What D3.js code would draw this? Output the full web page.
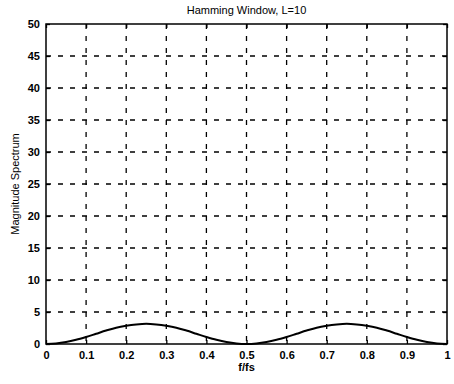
<!DOCTYPE html>
<html>
<head>
<meta charset="utf-8">
<script src="https://cdn.jsdelivr.net/npm/d3@7"></script>
<style>
  body { margin: 0; background: #fff; }
  text { font-family: "Liberation Sans", Arial, sans-serif; fill: #000; }
</style>
</head>
<body>
<div class="chart"></div>
<script>
// data
var freq = [0, 0.025, 0.05, 0.075, 0.1, 0.125, 0.15, 0.175, 0.2, 0.225, 0.25, 0.275, 0.3, 0.325, 0.35, 0.375, 0.4, 0.425, 0.45, 0.475,
            0.5, 0.525, 0.55, 0.575, 0.6, 0.625, 0.65, 0.675, 0.7, 0.725, 0.75, 0.775, 0.8, 0.825, 0.85, 0.875, 0.9, 0.925, 0.95, 0.975, 1];
var mag = [0, 0.08, 0.3, 0.65, 1.1, 1.6, 2.1, 2.55, 2.85, 3.05, 3.15, 3.05, 2.85, 2.55, 2.1, 1.6, 1.1, 0.65, 0.3, 0.08,
           0, 0.08, 0.3, 0.65, 1.1, 1.6, 2.1, 2.55, 2.85, 3.05, 3.15, 3.05, 2.85, 2.55, 2.1, 1.6, 1.1, 0.65, 0.3, 0.08, 0];
var xTicks = [0, 0.1, 0.2, 0.3, 0.4, 0.5, 0.6, 0.7, 0.8, 0.9, 1];
var yTicks = [0, 5, 10, 15, 20, 25, 30, 35, 40, 45, 50];

var svgWidth = 454, svgHeight = 384;
var margin = {top: 24, right: 7, bottom: 40, left: 46};
var width = svgWidth - margin.left - margin.right;
var height = svgHeight - margin.top - margin.bottom;

var svg = d3.select(".chart").append("svg")
  .attr("width", svgWidth)
  .attr("height", svgHeight);

var chartGroup = svg.append("g")
  .attr("transform", `translate(${margin.left}, ${margin.top})`);

var x = d3.scaleLinear().domain([0, 1]).range([0, width]);
var y = d3.scaleLinear().domain([0, 50]).range([height, 0]);

// dashed grid
chartGroup.selectAll("line.vgrid")
  .data(xTicks.slice(1, -1))
  .enter().append("line")
  .attr("x1", d => x(d)).attr("x2", d => x(d))
  .attr("y1", 0).attr("y2", height)
  .attr("stroke", "#000").attr("stroke-width", 1.3)
  .attr("stroke-dasharray", "5,7");

chartGroup.selectAll("line.hgrid")
  .data(yTicks.slice(1, -1))
  .enter().append("line")
  .attr("y1", d => y(d)).attr("y2", d => y(d))
  .attr("x1", 0).attr("x2", width)
  .attr("stroke", "#000").attr("stroke-width", 1.3)
  .attr("stroke-dasharray", "5,7");

// axes with inward ticks
var bottomAxis = d3.axisBottom(x).tickValues(xTicks).tickSize(-4).tickPadding(7).tickFormat(d3.format("~g"));
var topAxis = d3.axisTop(x).tickValues(xTicks).tickSize(-4).tickFormat("");
var leftAxis = d3.axisLeft(y).tickValues(yTicks).tickSize(-4).tickPadding(6);
var rightAxis = d3.axisRight(y).tickValues(yTicks).tickSize(-4).tickFormat("");

function styleAxis(g) {
  g.select(".domain").remove();
  g.selectAll("line").attr("stroke", "#000").attr("stroke-width", 1.3);
  g.selectAll("text").style("font-size", "11px").style("font-weight", "bold")
    .style("font-family", "'Liberation Sans', Arial, sans-serif");
}

chartGroup.append("g").attr("transform", `translate(0, ${height})`).call(bottomAxis).call(styleAxis);
chartGroup.append("g").call(topAxis).call(styleAxis);
chartGroup.append("g").call(leftAxis).call(styleAxis);
chartGroup.append("g").attr("transform", `translate(${width}, 0)`).call(rightAxis).call(styleAxis);

// box
chartGroup.append("rect")
  .attr("width", width).attr("height", height)
  .attr("fill", "none").attr("stroke", "#000").attr("stroke-width", 1.5);

// curve
var line = d3.line()
  .x((d, i) => x(freq[i]))
  .y(d => y(d))
  .curve(d3.curveMonotoneX);

chartGroup.append("path")
  .datum(mag)
  .attr("d", line)
  .attr("fill", "none")
  .attr("stroke", "#000")
  .attr("stroke-width", 2);

// title
svg.append("text")
  .attr("x", margin.left + width / 2)
  .attr("y", 14)
  .attr("text-anchor", "middle")
  .style("font-size", "11px")
  .text("Hamming Window, L=10");

// x label
svg.append("text")
  .attr("x", margin.left + x(0.5))
  .attr("y", 371)
  .attr("text-anchor", "middle")
  .style("font-size", "11px")
  .style("font-weight", "bold")
  .text("f/fs");

// y label
svg.append("text")
  .attr("transform", `translate(19, ${margin.top + height / 2}) rotate(-90)`)
  .attr("text-anchor", "middle")
  .style("font-size", "11px")
  .text("Magnitude Spectrum");
</script>
</body>
</html>
